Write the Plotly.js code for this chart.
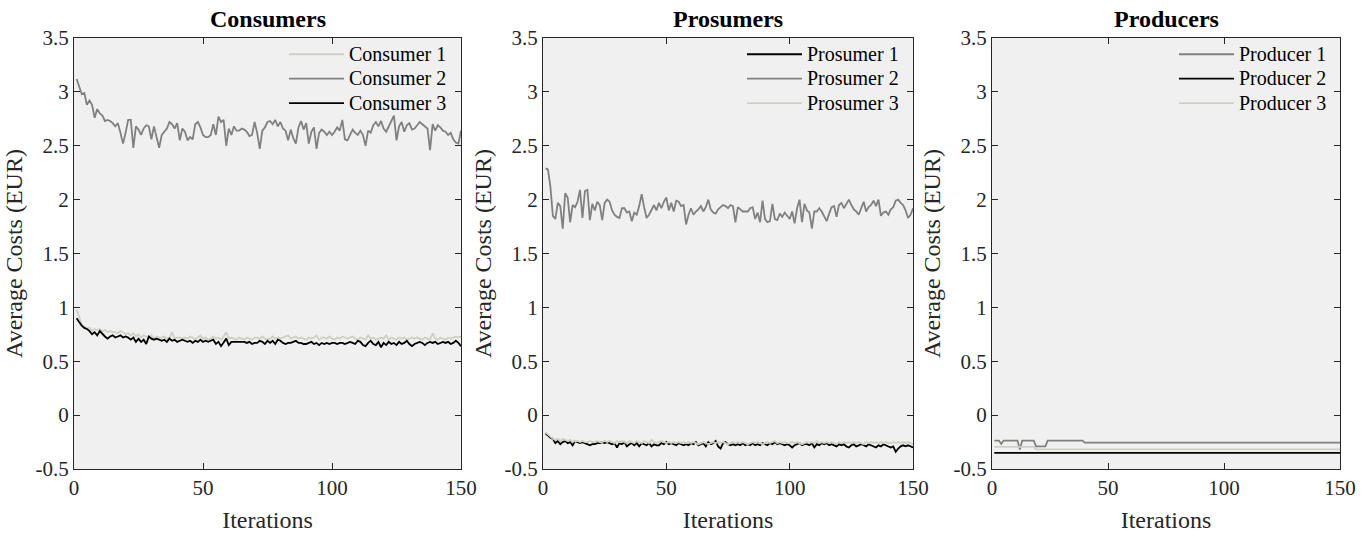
<!DOCTYPE html>
<html>
<head>
<meta charset="utf-8">
<script src="https://cdn.plot.ly/plotly-3.0.1.min.js"></script>
<style>html,body{margin:0;padding:0;background:#fff;}#chart{width:1372px;height:535px;}</style>
</head>
<body>
<div id="chart"></div>
<script>
// ---------- data ----------
const panelTitles = ["Consumers", "Prosumers", "Producers"];
const consumerNames = ["Consumer 1", "Consumer 2", "Consumer 3"];
const prosumerNames = ["Prosumer 1", "Prosumer 2", "Prosumer 3"];
const producerNames = ["Producer 1", "Producer 2", "Producer 3"];
const xTickVals = [0, 50, 100, 150];
const yTickVals = [-0.5, 0, 0.5, 1, 1.5, 2, 2.5, 3, 3.5];
const yTickText = ["-0.5", "0", "0.5", "1", "1.5", "2", "2.5", "3", "3.5"];

const consumer1 = [0.98,0.90,0.84,0.82,0.80,0.81,0.78,0.80,0.79,0.80,0.78,0.79,0.77,0.78,0.77,0.77,0.76,0.78,0.77,0.75,
0.76,0.74,0.76,0.73,0.75,0.72,0.74,0.73,0.72,0.74,0.71,0.73,0.72,0.72,0.73,0.71,0.72,0.77,0.71,0.72,
0.72,0.71,0.72,0.71,0.73,0.72,0.70,0.72,0.74,0.71,0.72,0.70,0.71,0.73,0.71,0.72,0.70,0.73,0.77,0.71,
0.72,0.71,0.70,0.72,0.71,0.70,0.72,0.71,0.70,0.72,0.72,0.71,0.73,0.71,0.70,0.71,0.73,0.71,0.72,0.71,
0.72,0.73,0.74,0.71,0.72,0.73,0.71,0.72,0.71,0.70,0.72,0.71,0.72,0.74,0.70,0.72,0.72,0.71,0.73,0.71,
0.70,0.72,0.71,0.73,0.72,0.71,0.72,0.73,0.71,0.70,0.72,0.71,0.70,0.74,0.71,0.72,0.70,0.71,0.72,0.71,
0.74,0.70,0.72,0.71,0.70,0.72,0.71,0.72,0.70,0.71,0.72,0.71,0.72,0.71,0.70,0.72,0.71,0.70,0.76,0.71,
0.70,0.72,0.71,0.70,0.72,0.71,0.72,0.73,0.72,0.73];

const consumer2 = [3.12,3.05,2.98,2.99,2.88,2.92,2.88,2.76,2.84,2.80,2.78,2.73,2.74,2.73,2.71,2.68,2.71,2.62,2.52,2.62,
2.74,2.74,2.48,2.68,2.65,2.60,2.66,2.69,2.68,2.56,2.68,2.58,2.48,2.60,2.63,2.66,2.72,2.70,2.66,2.71,
2.55,2.66,2.63,2.55,2.58,2.56,2.70,2.72,2.67,2.60,2.58,2.58,2.60,2.70,2.60,2.77,2.72,2.74,2.50,2.66,
2.60,2.68,2.64,2.64,2.66,2.65,2.63,2.59,2.60,2.72,2.62,2.47,2.64,2.67,2.72,2.73,2.70,2.74,2.68,2.72,
2.66,2.64,2.55,2.65,2.57,2.52,2.67,2.73,2.65,2.71,2.52,2.63,2.67,2.47,2.62,2.65,2.63,2.60,2.63,2.60,
2.63,2.67,2.64,2.74,2.56,2.55,2.60,2.65,2.62,2.60,2.64,2.60,2.50,2.64,2.62,2.69,2.72,2.68,2.73,2.66,
2.63,2.68,2.72,2.78,2.55,2.68,2.72,2.63,2.69,2.71,2.65,2.66,2.69,2.72,2.70,2.68,2.66,2.46,2.70,2.64,
2.69,2.67,2.64,2.63,2.60,2.62,2.56,2.53,2.52,2.64];

const consumer3 = [0.90,0.86,0.83,0.81,0.80,0.78,0.75,0.77,0.74,0.78,0.75,0.73,0.71,0.73,0.74,0.72,0.73,0.74,0.72,0.73,
0.72,0.70,0.72,0.68,0.71,0.68,0.70,0.66,0.73,0.71,0.70,0.71,0.70,0.69,0.70,0.68,0.71,0.69,0.70,0.68,
0.69,0.70,0.69,0.68,0.69,0.67,0.69,0.68,0.70,0.68,0.69,0.68,0.69,0.70,0.66,0.68,0.64,0.67,0.71,0.65,
0.68,0.68,0.68,0.68,0.68,0.68,0.67,0.68,0.66,0.67,0.67,0.69,0.68,0.66,0.69,0.67,0.69,0.66,0.70,0.69,
0.67,0.66,0.67,0.67,0.68,0.69,0.67,0.67,0.66,0.66,0.67,0.68,0.66,0.67,0.65,0.67,0.66,0.67,0.66,0.67,
0.67,0.66,0.67,0.67,0.66,0.67,0.68,0.67,0.66,0.69,0.68,0.65,0.64,0.67,0.69,0.66,0.65,0.68,0.63,0.67,
0.65,0.68,0.66,0.67,0.65,0.68,0.66,0.67,0.69,0.66,0.64,0.66,0.67,0.68,0.67,0.65,0.67,0.68,0.67,0.68,
0.66,0.67,0.68,0.67,0.68,0.66,0.67,0.69,0.67,0.64];

const prosumer1 = [-0.17,-0.19,-0.21,-0.22,-0.26,-0.24,-0.27,-0.25,-0.24,-0.26,-0.25,-0.28,-0.24,-0.25,-0.26,-0.25,-0.26,-0.27,-0.28,-0.27,
-0.27,-0.26,-0.26,-0.25,-0.26,-0.25,-0.26,-0.27,-0.26,-0.30,-0.26,-0.27,-0.25,-0.29,-0.27,-0.26,-0.28,-0.26,-0.29,-0.26,
-0.27,-0.28,-0.26,-0.29,-0.27,-0.28,-0.28,-0.26,-0.27,-0.25,-0.27,-0.26,-0.27,-0.28,-0.26,-0.27,-0.28,-0.27,-0.28,-0.26,
-0.27,-0.25,-0.28,-0.27,-0.26,-0.29,-0.25,-0.27,-0.26,-0.24,-0.29,-0.31,-0.26,-0.25,-0.27,-0.28,-0.27,-0.28,-0.27,-0.28,
-0.26,-0.28,-0.27,-0.28,-0.26,-0.28,-0.27,-0.28,-0.26,-0.27,-0.28,-0.26,-0.27,-0.25,-0.27,-0.26,-0.27,-0.28,-0.27,-0.28,
-0.30,-0.28,-0.27,-0.26,-0.28,-0.27,-0.27,-0.28,-0.26,-0.30,-0.27,-0.28,-0.26,-0.27,-0.26,-0.28,-0.27,-0.28,-0.29,-0.27,
-0.28,-0.27,-0.29,-0.30,-0.28,-0.27,-0.29,-0.28,-0.27,-0.28,-0.29,-0.27,-0.28,-0.29,-0.30,-0.28,-0.29,-0.27,-0.28,-0.29,
-0.30,-0.29,-0.34,-0.31,-0.29,-0.28,-0.29,-0.28,-0.29,-0.30];

const prosumer2 = [2.29,2.28,2.12,1.85,1.82,1.97,1.94,1.73,2.06,2.02,1.79,1.95,1.93,1.98,2.09,1.83,2.08,2.09,1.81,1.96,
1.90,1.98,1.95,1.81,1.97,2.00,1.98,1.90,1.86,1.84,1.83,1.92,1.92,1.88,1.89,1.80,1.88,1.86,1.94,2.05,
1.93,1.83,1.86,1.90,1.95,1.90,1.97,1.92,1.98,2.02,1.90,1.97,1.89,1.99,1.98,1.94,1.95,1.77,1.86,1.92,
1.86,1.89,1.91,1.94,1.89,1.93,2.00,1.91,1.88,1.87,1.91,1.93,1.95,1.94,1.92,1.95,1.94,1.79,1.93,1.91,
1.89,1.89,1.89,1.92,1.93,1.82,1.88,1.79,1.99,1.82,1.79,1.80,1.96,1.82,1.81,1.87,1.84,1.88,1.85,1.82,
1.89,1.78,1.92,2.00,1.79,1.96,1.90,1.88,1.73,1.89,1.89,1.92,1.89,1.84,1.80,1.87,1.93,1.94,1.84,1.95,
1.97,1.92,1.96,2.00,1.95,1.91,1.89,1.86,1.92,1.98,1.89,1.93,1.95,1.99,1.94,2.00,1.85,1.88,1.89,1.86,
1.91,1.93,1.99,2.00,1.97,1.95,1.90,1.83,1.86,1.92];

const prosumer3 = [-0.16,-0.18,-0.20,-0.22,-0.23,-0.22,-0.24,-0.22,-0.23,-0.24,-0.23,-0.25,-0.24,-0.24,-0.25,-0.24,-0.25,-0.25,-0.24,-0.25,
-0.25,-0.24,-0.25,-0.25,-0.24,-0.25,-0.24,-0.25,-0.26,-0.24,-0.25,-0.24,-0.25,-0.26,-0.24,-0.25,-0.26,-0.24,-0.25,-0.26,
-0.24,-0.25,-0.26,-0.23,-0.25,-0.26,-0.25,-0.24,-0.25,-0.26,-0.25,-0.26,-0.25,-0.26,-0.25,-0.26,-0.25,-0.26,-0.25,-0.26,
-0.25,-0.26,-0.27,-0.26,-0.25,-0.26,-0.27,-0.26,-0.25,-0.26,-0.25,-0.26,-0.25,-0.26,-0.27,-0.26,-0.25,-0.26,-0.25,-0.26,
-0.25,-0.26,-0.27,-0.26,-0.25,-0.26,-0.25,-0.26,-0.27,-0.26,-0.25,-0.26,-0.25,-0.24,-0.26,-0.25,-0.26,-0.25,-0.26,-0.26,
-0.25,-0.26,-0.25,-0.26,-0.27,-0.26,-0.25,-0.26,-0.25,-0.26,-0.24,-0.26,-0.25,-0.26,-0.25,-0.26,-0.25,-0.26,-0.27,-0.25,
-0.26,-0.25,-0.26,-0.25,-0.26,-0.25,-0.26,-0.25,-0.26,-0.27,-0.25,-0.26,-0.25,-0.26,-0.25,-0.26,-0.25,-0.26,-0.25,-0.26,
-0.26,-0.25,-0.26,-0.25,-0.26,-0.25,-0.26,-0.25,-0.26,-0.27];

// producers are piecewise constant: breakpoints
const producer1X = [1,3,4,5,11,12,13,18,19,23,24,39,40,150];
const producer1  = [-0.236,-0.236,-0.267,-0.236,-0.236,-0.32,-0.236,-0.236,-0.29,-0.29,-0.236,-0.236,-0.256,-0.256];
const producer2X = [1,150];
const producer2  = [-0.351,-0.351];
const producer3X = [1,18,19,150];
const producer3  = [-0.294,-0.294,-0.318,-0.318];

// ---------- drawing ----------
const iters = consumer1.map((_, i) => i + 1);
const LIGHT = "#d0cec6", GRAY = "#808080", BLACK = "#000000";
const FONT = "Liberation Serif";

function legName(n) { return '<span style="font-size:20px">' + n + '</span>'; }

function tr(name, x, y, color, xa, ya, leg) {
  return {type: "scatter", mode: "lines", name: legName(name), x: x, y: y,
    xaxis: xa, yaxis: ya, legend: leg,
    line: {color: color, width: 1.8}, hoverinfo: "skip"};
}

const data = [
  tr(consumerNames[0], iters, consumer1, LIGHT, "x", "y", "legend"),
  tr(consumerNames[1], iters, consumer2, GRAY, "x", "y", "legend"),
  tr(consumerNames[2], iters, consumer3, BLACK, "x", "y", "legend"),
  tr(prosumerNames[0], iters, prosumer1, BLACK, "x2", "y2", "legend2"),
  tr(prosumerNames[1], iters, prosumer2, GRAY, "x2", "y2", "legend2"),
  tr(prosumerNames[2], iters, prosumer3, LIGHT, "x2", "y2", "legend2"),
  tr(producerNames[0], producer1X, producer1, GRAY, "x3", "y3", "legend3"),
  tr(producerNames[1], producer2X, producer2, BLACK, "x3", "y3", "legend3"),
  tr(producerNames[2], producer3X, producer3, LIGHT, "x3", "y3", "legend3")
];

const W = 1372, H = 535;
const xDomains = [[74 / W, 461 / W], [543 / W, 913 / W], [992 / W, 1340 / W]];
const yDomain = [(H - 469) / H, (H - 38) / H];

function xax(dom, anchor) {
  return {domain: dom, anchor: anchor, range: [0, 150], tickvals: xTickVals,
    ticks: "inside", ticklen: 6, tickcolor: "#262626", showline: true, mirror: "ticks",
    linecolor: "#262626", linewidth: 1, showgrid: false, zeroline: false,
    tickfont: {family: FONT, size: 21, color: "#262626"},
    title: {text: "Iterations", font: {family: FONT, size: 24, color: "#262626"}, standoff: 11},
    automargin: false, fixedrange: true};
}
function yax(anchor) {
  return {domain: yDomain, anchor: anchor, range: [-0.5, 3.5], tickvals: yTickVals, ticktext: yTickText,
    ticks: "inside", ticklen: 6, tickcolor: "#262626", showline: true, mirror: "ticks",
    linecolor: "#262626", linewidth: 1, showgrid: false, zeroline: false,
    tickfont: {family: FONT, size: 21, color: "#262626"},
    title: {text: "Average Costs (EUR)", font: {family: FONT, size: 24, color: "#262626"}, standoff: 6},
    automargin: false, fixedrange: true};
}
function leg(xRight) {
  return {x: xRight / W, xanchor: "right", y: (H - 37) / H, yanchor: "top",
    bgcolor: "rgba(0,0,0,0)", borderwidth: 0, itemwidth: 55,
    font: {family: FONT, size: 16.5, color: "#000"}, tracegroupgap: 0};
}

const annotations = panelTitles.map((t, i) => ({
  text: "<b>" + t + "</b>", xref: "paper", yref: "paper",
  x: (xDomains[i][0] + xDomains[i][1]) / 2, y: (H - 19) / H, xanchor: "center", yanchor: "middle",
  showarrow: false, font: {family: FONT, size: 24, color: "#000"}
}));

const layout = {
  width: W, height: H, margin: {l: 0, r: 0, t: 0, b: 0},
  paper_bgcolor: "#ffffff", plot_bgcolor: "#f0f0f0",
  font: {family: FONT},
  showlegend: true,
  xaxis: xax(xDomains[0], "y"), yaxis: yax("x"),
  xaxis2: xax(xDomains[1], "y2"), yaxis2: yax("x2"),
  xaxis3: xax(xDomains[2], "y3"), yaxis3: yax("x3"),
  legend: leg(452), legend2: leg(904), legend3: leg(1332),
  annotations: annotations
};

Plotly.newPlot("chart", data, layout, {displayModeBar: false, staticPlot: true});
</script>
</body>
</html>
